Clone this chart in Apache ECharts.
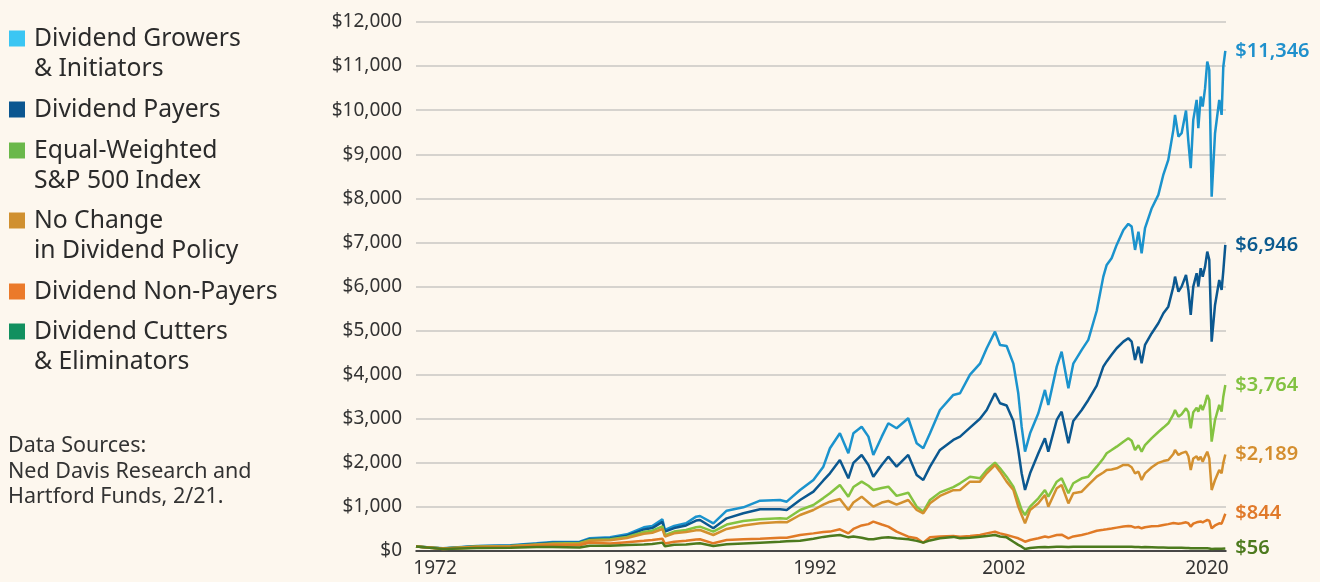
<!DOCTYPE html>
<html>
<head>
<meta charset="utf-8">
<script src="https://cdn.jsdelivr.net/npm/echarts/dist/echarts.min.js"></script>
<style>
  html, body { margin: 0; padding: 0; background: #fdf7ee; }
  #chart { width: 1320px; height: 582px; }
</style>
</head>
<body>
<div id="chart"></div>
<script>
// decimal years of the sampled points (Jan 1973 .. end 2020)
var dates = [
  1973.0, 1974.6, 1976.6, 1978.6, 1980.15, 1981.1, 1982.7, 1983.3, 1984.5, 1985.5, 1986.5, 1987.0, 1987.6, 1987.75, 1988.3, 1989.0, 1989.6,
  1989.83, 1990.62, 1991.41, 1992.40, 1993.39, 1994.57, 1994.97, 1995.76, 1996.55, 1997.14, 1997.53, 1998.12, 1998.62, 1998.92, 1999.41, 1999.81, 2000.10, 2000.60, 2000.99, 2001.48, 2002.17, 2002.67, 2003.06, 2003.46, 2004.05, 2004.84,
  2005.24, 2005.83, 2006.42, 2006.82, 2007.31, 2007.61, 2008.00, 2008.40, 2008.69, 2008.89, 2009.09, 2009.39, 2009.88, 2010.27, 2010.47, 2010.97, 2011.26, 2011.66, 2011.95, 2012.45, 2012.84,
  2013.34, 2013.73, 2013.93, 2014.22, 2014.52, 2014.92, 2015.21, 2015.41, 2015.61, 2015.81, 2016.00, 2016.20, 2016.60, 2016.99, 2017.29, 2017.58, 2017.88, 2017.98, 2018.18, 2018.37,
  2018.63, 2018.77, 2018.91, 2019.06, 2019.26, 2019.36, 2019.50, 2019.62, 2019.76, 2019.89, 2020.01, 2020.15, 2020.35, 2020.60, 2020.74, 2020.84, 2020.96
];

var growers = [
  100, 60, 113, 128, 174, 204, 211, 288, 310, 378, 537, 567, 719, 476, 567, 628, 779,
  794, 628, 915, 991, 1142, 1157, 1119, 1384, 1611, 1913, 2330, 2670, 2217, 2670, 2820, 2594, 2178, 2594, 2897, 2784, 3011, 2444, 2330, 2670, 3199, 3540,
  3578, 4000, 4250, 4600, 4976, 4674, 4650, 4250, 3578, 2820, 2253, 2670, 3124, 3653, 3313, 4182, 4522, 3692, 4250, 4561, 4788,
  5450, 6224, 6489, 6641, 6943, 7283, 7420, 7359, 6830, 7245, 6755, 7322, 7776, 8078, 8540, 8872, 9553, 9893, 9401, 9477,
  9990, 9287, 8683, 9779, 10233, 9591, 10308, 10081, 10499, 11102, 10914, 8039, 9477, 10233, 9893, 10988, 11346
];
var payers = [
  100, 58, 105, 120, 160, 185, 195, 265, 285, 345, 490, 520, 660, 440, 520, 580, 690,
  703, 515, 741, 855, 946, 946, 930, 1157, 1346, 1600, 1763, 2065, 1649, 2000, 2178, 1950, 1686, 1951, 2140, 1913, 2178, 1724, 1611, 1913, 2292, 2519,
  2594, 2800, 3000, 3200, 3578, 3351, 3300, 2950, 2292, 1763, 1384, 1763, 2217, 2557, 2253, 2972, 3161, 2444, 2950, 3199, 3426,
  3750, 4182, 4300, 4450, 4599, 4750, 4826, 4750, 4334, 4636, 4258, 4674, 4940, 5166, 5393, 5543, 5997, 6224, 5884, 5997,
  6262, 5922, 5355, 5997, 6300, 5997, 6414, 6224, 6451, 6792, 6603, 4750, 5582, 6149, 5922, 6350, 6946
];
var equalWeighted = [
  100, 55, 100, 112, 150, 170, 180, 250, 268, 320, 430, 460, 560, 360, 440, 475, 540,
  552, 438, 600, 680, 719, 741, 730, 930, 1044, 1200, 1309, 1498, 1233, 1450, 1573, 1480, 1384, 1430, 1459, 1250, 1323, 1006, 892, 1157, 1330, 1450,
  1536, 1686, 1649, 1838, 2004, 1876, 1686, 1459, 1157, 930, 817, 1006, 1195, 1384, 1233, 1573, 1649, 1309, 1536, 1649, 1686,
  1913, 2100, 2217, 2290, 2367, 2480, 2557, 2500, 2292, 2400, 2253, 2400, 2560, 2700, 2800, 2897, 3100, 3199, 3048, 3100,
  3237, 3150, 2784, 3150, 3250, 3161, 3313, 3199, 3350, 3540, 3426, 2480, 2972, 3313, 3161, 3500, 3764
];
var noChange = [
  100, 55, 98, 108, 140, 160, 165, 230, 245, 295, 390, 415, 500, 330, 400, 430, 470,
  476, 363, 500, 580, 628, 660, 650, 817, 930, 1050, 1119, 1180, 930, 1100, 1233, 1100, 1006, 1100, 1134, 1050, 1157, 930, 855, 1081, 1250, 1380,
  1384, 1573, 1573, 1763, 1951, 1800, 1573, 1384, 1006, 817, 628, 930, 1081, 1271, 1006, 1422, 1498, 1081, 1309, 1346, 1498,
  1686, 1780, 1838, 1850, 1876, 1951, 1951, 1900, 1763, 1800, 1611, 1760, 1900, 2000, 2040, 2065, 2200, 2292, 2178, 2220,
  2253, 2150, 1838, 2100, 2150, 2065, 2140, 2026, 2150, 2253, 2103, 1384, 1611, 1838, 1763, 2000, 2189
];
var nonPayers = [
  100, 45, 80, 90, 120, 125, 130, 190, 170, 200, 230, 250, 280, 170, 210, 230, 260,
  265, 174, 250, 265, 280, 300, 300, 363, 400, 430, 440, 492, 401, 500, 580, 610, 666, 600, 552, 438, 325, 288, 189, 310, 330, 340,
  325, 340, 363, 400, 438, 400, 363, 320, 288, 250, 211, 250, 288, 330, 310, 363, 370, 288, 330, 363, 400,
  460, 480, 492, 510, 530, 555, 567, 560, 530, 545, 515, 540, 560, 567, 590, 610, 635, 642, 620, 630,
  650, 630, 552, 620, 650, 640, 670, 650, 680, 703, 690, 515, 580, 628, 620, 720, 844
];
var cutters = [
  100, 45, 70, 75, 90, 90, 80, 120, 120, 135, 150, 160, 190, 110, 140, 150, 170,
  174, 113, 151, 170, 189, 210, 220, 234, 280, 320, 340, 363, 310, 330, 300, 265, 265, 300, 310, 290, 265, 230, 189, 240, 288, 320,
  288, 300, 325, 340, 363, 330, 310, 211, 140, 98, 45, 70, 83, 90, 85, 95, 98, 90, 95, 98, 98,
  98, 98, 98, 98, 98, 98, 98, 95, 90, 92, 85, 88, 85, 80, 78, 76, 76, 76, 72, 72,
  70, 68, 60, 62, 62, 60, 62, 60, 60, 60, 58, 45, 50, 52, 50, 53, 56
];

var seriesNames = ['Dividend Growers\n& Initiators', 'Dividend Payers', 'Equal-Weighted\nS&P 500 Index',
  'No Change\nin Dividend Policy', 'Dividend Non-Payers', 'Dividend Cutters\n& Eliminators'];
var endLabels = ['$11,346', '$6,946', '$3,764', '$2,189', '$844', '$56'];
var xTickLabels = ['1972', '1982', '1992', '2002', '2020'];
var xTickValues = [1974.13, 1985.39, 1996.64, 2007.84, 2019.87];

var lineColors = ['#1b93cd', '#0b5890', '#84c341', '#d3902f', '#e07a26', '#4c7a1d'];
var legendColors = ['#3bc6f3', '#0b5690', '#6ab84a', '#d09030', '#eb7a2a', '#12905f'];
var labelColors = ['#1f90cc', '#0b5a8f', '#82c241', '#d48e2f', '#e0792a', '#4d7a1e'];
// vertical centre of each legend square
var legendCentres = [38.5, 109.5, 150.5, 220.5, 291.5, 331.5];

var FONT = '"Noto Sans", "Open Sans", sans-serif';
var LEGEND_LH = 30;
var values = [growers, payers, equalWeighted, noChange, nonPayers, cutters];

var chart = echarts.init(document.getElementById('chart'));

var option = {
  backgroundColor: '#fdf7ee',
  animation: false,
  textStyle: { fontFamily: FONT },
  title: {
    text: 'Data Sources:\nNed Davis Research and\nHartford Funds, 2/21.',
    left: 8, top: 433.5, padding: 0,
    textStyle: { fontFamily: FONT, fontSize: 21.5, fontWeight: 'normal', lineHeight: 25.5, color: '#333' }
  },
  legend: seriesNames.map(function (name, i) {
    var twoLines = name.indexOf('\n') >= 0;
    return {
      data: [{ name: name, itemStyle: { color: legendColors[i] } }],
      left: 9,
      // two-line names get a blank first line so the square sits on the first text line
      top: legendCentres[i] - (twoLines ? 1.5 : 0.5) * LEGEND_LH,
      padding: 0,
      orient: 'vertical', icon: 'rect', itemWidth: 16, itemHeight: 16,
      selectedMode: false,
      formatter: function (n) { return n.indexOf('\n') >= 0 ? '\n' + n : n; },
      textStyle: {
        fontFamily: FONT, fontSize: 24.7, color: '#2b2b2b', lineHeight: LEGEND_LH,
        padding: [0, 0, 0, 4]
      }
    };
  }),
  grid: { left: 416, right: 94, top: 22, bottom: 31, containLabel: false },
  xAxis: {
    type: 'value', min: 1973, max: 2021,
    axisLine: { show: true, lineStyle: { color: '#1a1a1a', width: 1.5 } },
    axisTick: { show: false },
    splitLine: { show: false },
    axisLabel: {
      customValues: xTickValues,
      fontFamily: FONT, fontSize: 19, color: '#333', margin: 8,
      formatter: function (v) {
        var best = 0;
        for (var k = 1; k < xTickValues.length; k++) {
          if (Math.abs(xTickValues[k] - v) < Math.abs(xTickValues[best] - v)) best = k;
        }
        return xTickLabels[best];
      }
    }
  },
  yAxis: {
    type: 'value', min: 0, max: 12000, interval: 1000,
    axisLine: { show: false },
    axisTick: { show: false },
    splitLine: { lineStyle: { color: '#d6d3ce', width: 2 } },
    axisLabel: {
      fontFamily: FONT, fontSize: 19, color: '#333', margin: 14,
      formatter: function (v) { return '$' + v.toLocaleString('en-US'); }
    }
  },
  series: values.map(function (vals, i) {
    return {
      name: seriesNames[i],
      type: 'line',
      data: dates.map(function (d, j) { return [d, vals[j]]; }),
      showSymbol: false,
      lineStyle: { color: lineColors[i], width: 2.5 },
      itemStyle: { color: lineColors[i] },
      endLabel: {
        show: true, formatter: endLabels[i], distance: 10,
        color: labelColors[i], fontFamily: FONT, fontSize: 20, fontWeight: 600
      }
    };
  })
};

chart.setOption(option);
</script>
</body>
</html>
